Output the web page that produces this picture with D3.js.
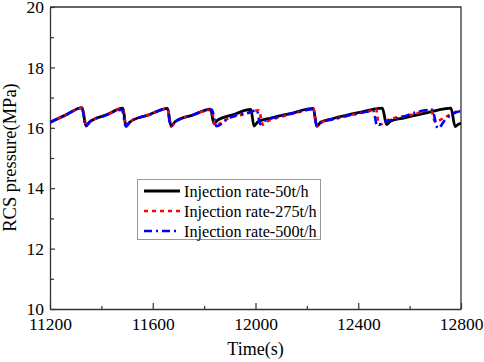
<!DOCTYPE html>
<html>
<head>
<meta charset="utf-8">
<script src="https://cdn.jsdelivr.net/npm/d3@7"></script>
<style>
	body { margin: 0; background: #fff; }
	text { font-family: "Liberation Serif", "Times New Roman", serif; fill: #000; }
</style>
</head>
<body>
<svg id="chart" width="484" height="362"></svg>
<script>
// data
let seriesNames = ["Injection rate-50t/h", "Injection rate-275t/h", "Injection rate-500t/h"];

let time50 = [11200, 11260, 11325, 11340, 11355, 11420, 11484, 11496, 11512, 11585, 11658, 11671, 11687, 11755, 11825, 11838,
	11852, 11915, 11982, 11994, 12010, 12060, 12140, 12225, 12238, 12255, 12300, 12400, 12494, 12510, 12525, 12580, 12670,
	12761, 12777, 12790, 12800];
let pressure50 = [16.18, 16.42, 16.67, 16.06, 16.2, 16.43, 16.65, 16.04, 16.2, 16.43, 16.64, 16.05, 16.2, 16.42, 16.62, 16.14,
	16.25, 16.44, 16.61, 16.06, 16.2, 16.32, 16.48, 16.64, 16.05, 16.19, 16.3, 16.5, 16.65, 16.11, 16.22, 16.33, 16.5,
	16.65, 16.04, 16.12, 16.15];

let time275 = [11200, 11260, 11326, 11341, 11356, 11420, 11482, 11497, 11512, 11585, 11657, 11672, 11688, 11755, 11829, 11842,
	11893, 11960, 12013, 12029, 12045, 12103, 12173, 12226, 12239, 12257, 12310, 12375, 12465, 12469, 12481, 12516, 12601,
	12672, 12683, 12699, 12738, 12777, 12800];
let pressure275 = [16.18, 16.42, 16.66, 16.07, 16.2, 16.42, 16.63, 16.05, 16.2, 16.43, 16.63, 16.06, 16.2, 16.42, 16.6, 16.08,
	16.31, 16.46, 16.58, 16.1, 16.2, 16.37, 16.53, 16.63, 16.05, 16.18, 16.3, 16.43, 16.6, 16.61, 16.1, 16.26, 16.42,
	16.58, 16.6, 16.2, 16.35, 16.52, 16.58];

let time500 = [11200, 11260, 11324, 11339, 11355, 11420, 11480, 11495, 11511, 11585, 11656, 11670, 11686, 11755, 11830, 11848,
	11893, 11940, 11971, 12006, 12018, 12035, 12090, 12155, 12224, 12240, 12257, 12310, 12375, 12459, 12473, 12504, 12563,
	12633, 12687, 12710, 12738, 12777, 12800];
let pressure500 = [16.18, 16.42, 16.66, 16.07, 16.2, 16.42, 16.6, 16.06, 16.2, 16.43, 16.62, 16.06, 16.2, 16.42, 16.6, 16.05,
	16.3, 16.45, 16.5, 16.58, 16.12, 16.22, 16.38, 16.5, 16.62, 16.06, 16.18, 16.3, 16.43, 16.55, 16.08, 16.2, 16.33,
	16.53, 16.6, 15.98, 16.26, 16.5, 16.55];

let xTicks = [11200, 11600, 12000, 12400, 12800];
let xMinorTicks = [11400, 11800, 12200, 12600];
let yTicks = [10, 12, 14, 16, 18, 20];
let yMinorTicks = [11, 13, 15, 17, 19];

let series = [
	{ name: seriesNames[0], t: time50, p: pressure50, color: "#000", dash: null, width: 2.8 },
	{ name: seriesNames[1], t: time275, p: pressure275, color: "#ff0000", dash: "4,4", width: 2.6 },
	{ name: seriesNames[2], t: time500, p: pressure500, color: "#0000ff", dash: "8,4,2,4", width: 2.6 }
];

let plotLeft = 50, plotRight = 461, plotTop = 7, plotBottom = 309;
let svg = d3.select("#chart");

let x = d3.scaleLinear().domain([11200, 12800]).range([plotLeft, plotRight]);
let y = d3.scaleLinear().domain([10, 20]).range([plotBottom, plotTop]);

let axisColor = "#333";

// minor ticks first
svg.append("g")
	.attr("transform", "translate(0," + plotBottom + ")")
	.call(d3.axisBottom(x).tickValues(xMinorTicks).tickSize(-3).tickSizeOuter(0).tickFormat(""))
	.call(g => g.select(".domain").remove());
svg.append("g")
	.attr("transform", "translate(" + plotLeft + ",0)")
	.call(d3.axisLeft(y).tickValues(yMinorTicks).tickSize(-4).tickSizeOuter(0).tickFormat(""))
	.call(g => g.select(".domain").remove());

let xAxis = svg.append("g")
	.attr("transform", "translate(0," + plotBottom + ")")
	.call(d3.axisBottom(x).tickValues(xTicks).tickSize(-6).tickSizeOuter(0).tickPadding(9).tickFormat(d3.format("d")));
xAxis.selectAll("text").style("font-size", "17.5px").style("font-family", "Liberation Serif");

let yAxis = svg.append("g")
	.attr("transform", "translate(" + plotLeft + ",0)")
	.call(d3.axisLeft(y).tickValues(yTicks).tickSize(-5).tickSizeOuter(0).tickPadding(6));
yAxis.selectAll("text").style("font-size", "17.5px").style("font-family", "Liberation Serif");

svg.selectAll(".tick line").attr("stroke", axisColor).attr("stroke-width", 1.2);
svg.selectAll(".domain").attr("stroke", axisColor).attr("stroke-width", 1.3);

// frame top and right
svg.append("path")
	.attr("d", "M" + plotLeft + "," + plotTop + "H" + plotRight + "V" + plotBottom)
	.attr("fill", "none")
	.attr("stroke", axisColor)
	.attr("stroke-width", 1.3);

svg.append("defs").append("clipPath").attr("id", "plot")
	.append("rect").attr("x", plotLeft).attr("y", plotTop).attr("width", plotRight - plotLeft).attr("height", plotBottom - plotTop);

let line = d3.line()
	.x(d => x(d[0]))
	.y(d => y(d[1]))
	.curve(d3.curveMonotoneX);

series.forEach(function(s) {
	svg.append("path")
		.datum(d3.zip(s.t, s.p))
		.attr("clip-path", "url(#plot)")
		.attr("fill", "none")
		.attr("stroke", s.color)
		.attr("stroke-width", s.width)
		.attr("stroke-dasharray", s.dash)
		.attr("d", line);
});

// legend
let legend = svg.append("g");
legend.append("rect")
	.attr("x", 137.5).attr("y", 179.5).attr("width", 183).attr("height", 60)
	.attr("fill", "#fff").attr("stroke", "#999").attr("stroke-width", 1);
series.forEach(function(s, i) {
	let ly = 191 + i * 20;
	legend.append("line")
		.attr("x1", 144).attr("x2", 180).attr("y1", ly).attr("y2", ly)
		.attr("stroke", s.color).attr("stroke-width", s.width)
		.attr("stroke-dasharray", s.dash);
	legend.append("text")
		.attr("x", 184).attr("y", ly).attr("dy", "0.35em")
		.style("font-size", "16.2px")
		.text(s.name);
});

// axis titles
svg.append("text")
	.attr("x", (plotLeft + plotRight) / 2).attr("y", 355)
	.attr("text-anchor", "middle")
	.style("font-size", "18px")
	.text("Time(s)");

svg.append("text")
	.attr("transform", "translate(15.5," + 157.5 + ") rotate(-90)")
	.attr("text-anchor", "middle")
	.style("font-size", "18.5px")
	.text("RCS pressure(MPa)");
</script>
</body>
</html>
